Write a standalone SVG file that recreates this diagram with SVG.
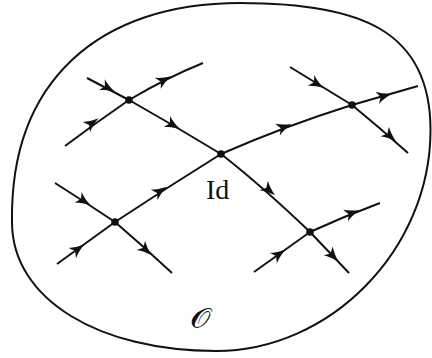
<svg xmlns="http://www.w3.org/2000/svg" width="432" height="358" viewBox="0 0 432 358">
<style>
.ln{fill:none;stroke:#111;stroke-width:2;stroke-linecap:butt}
.dot{fill:#111}
.ah{fill:#111}
.lbl{font-family:"Liberation Serif","DejaVu Serif",serif;fill:#111}
</style>
<defs>
<path id="ah" d="M8,0 C2,-1.5 -3,-3.7 -7,-6.3 L-3.5,0 L-7,6.3 C-3,3.7 2,1.5 8,0 Z"/>
</defs>
<g id="region">
<path class="ln" d="M240,3 C360,3 430.5,30 430.5,130 C430.5,250 330,351 216,351 C100,351 12,300 12,222 C10,80 100,3 240,3 Z"/>
</g>
<g id="connectors">
<path class="ln" d="M87,78 L129,100 Q175,126 221,154 Q262,186 310,232 L349,273"/>
<path class="ln" d="M57,264 L115,222 Q168,187 221,154 Q285,126 352,105 L418,86"/>
<path class="ln" d="M65,146 Q97,122 129,100 Q166,78 203,63"/>
<path class="ln" d="M55,183 Q85,202 115,222 Q143,246 172,273"/>
<path class="ln" d="M290,67 Q321,86 352,105 Q380,128 408,153"/>
<path class="ln" d="M254,272 Q282,252 310,232 Q345,216 380,203"/>
<g class="ah">
<use href="#ah" transform="translate(108,88) rotate(28)"/>
<use href="#ah" transform="translate(173,125) rotate(30)"/>
<use href="#ah" transform="translate(269,190) rotate(41)"/>
<use href="#ah" transform="translate(333,256) rotate(46)"/>
<use href="#ah" transform="translate(92,123) rotate(-36)"/>
<use href="#ah" transform="translate(164,80) rotate(-28)"/>
<use href="#ah" transform="translate(78,249) rotate(-36)"/>
<use href="#ah" transform="translate(160,191) rotate(-33)"/>
<use href="#ah" transform="translate(284,127) rotate(-22)"/>
<use href="#ah" transform="translate(384,96) rotate(-16)"/>
<use href="#ah" transform="translate(84,201) rotate(33)"/>
<use href="#ah" transform="translate(146,250) rotate(42)"/>
<use href="#ah" transform="translate(317,84) rotate(31)"/>
<use href="#ah" transform="translate(390,136) rotate(41)"/>
<use href="#ah" transform="translate(279,254) rotate(-35)"/>
<use href="#ah" transform="translate(352,213) rotate(-22)"/>
</g>
</g>
<g id="n1"><circle class="dot" cx="129" cy="100" r="3.8"/></g>
<g id="n2"><circle class="dot" cx="221" cy="154" r="3.8"/><text class="lbl" x="206" y="199" font-size="28">Id</text></g>
<g id="n3"><circle class="dot" cx="352" cy="105" r="3.8"/></g>
<g id="n4"><circle class="dot" cx="115" cy="222" r="3.8"/></g>
<g id="n5"><circle class="dot" cx="310" cy="232" r="3.8"/></g>
<g id="label-O"><text class="lbl" font-size="27" transform="translate(190,328) scale(1.2,1)">𝒪</text></g>
</svg>
